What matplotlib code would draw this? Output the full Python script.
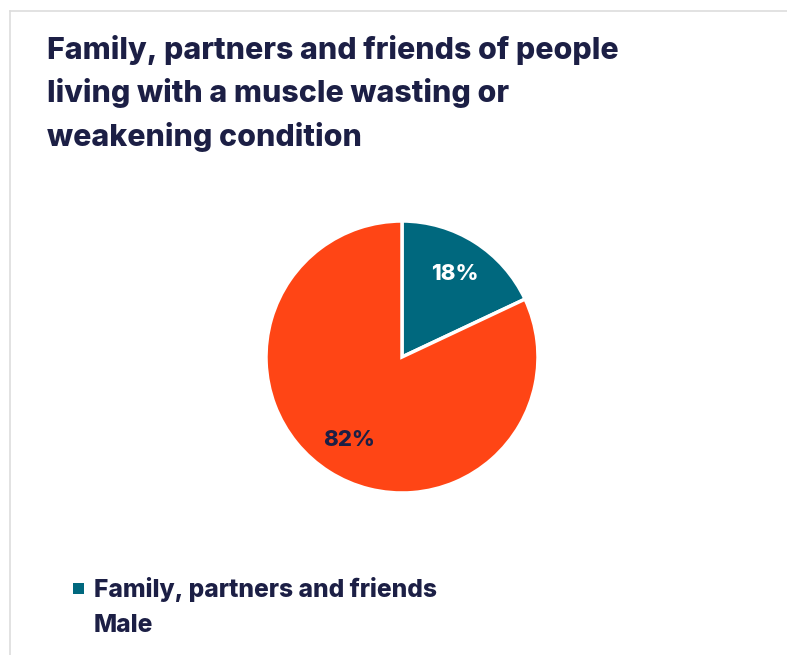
import matplotlib
matplotlib.use("Agg")
import matplotlib.pyplot as plt
from matplotlib.patches import Rectangle
from matplotlib.lines import Line2D

# Data
categories = ["Family, partners and friends Male", "Family, partners and friends Female"]
values = [18, 82]
colors = ["#00687E", "#FF4515"]
label_colors = ["#FFFFFF", "#1C1F45"]
title_lines = ["Family, partners and friends of people",
               "living with a muscle wasting or",
               "weakening condition"]
legend_lines = ["Family, partners and friends", "Male"]

NAVY = "#1C1F45"
W, H = 787, 655
DPI = 100

plt.rcParams["font.family"] = ["Inter", "DejaVu Sans"]

fig = plt.figure(figsize=(W / DPI, H / DPI), dpi=DPI)
fig.patch.set_facecolor("white")

def fx(px):
    return px / W

def fy(py):
    return 1 - py / H

# Card border (top and left edges)
fig.add_artist(Line2D([fx(10), 1.0], [fy(11), fy(11)], color="#DDDDDD", lw=1.2))
fig.add_artist(Line2D([fx(10), fx(10)], [fy(11), 0.0], color="#DDDDDD", lw=1.2))

# Title
for i, line in enumerate(title_lines):
    fig.text(fx(47), fy(50 + i * 43.5), line, fontsize=21.8, fontweight="heavy",
             color=NAVY, ha="left", va="center")

# Pie
cx, cy, r = 402, 357, 136
pad = 1.03
ax = fig.add_axes([fx(cx - r * pad), fy(cy + r * pad), 2 * r * pad / W, 2 * r * pad / H])
wedges, texts, autotexts = ax.pie(
    values, colors=colors, startangle=90, counterclock=False,
    autopct="%d%%", pctdistance=0.72,
    wedgeprops=dict(edgecolor="white", linewidth=2.5),
    textprops=dict(fontsize=16, fontweight="heavy"))
for t, c in zip(autotexts, label_colors):
    t.set_color(c)
ax.set_xlim(-pad, pad)
ax.set_ylim(-pad, pad)
ax.set_aspect("equal")
ax.axis("off")

# Legend (single entry, wrapped label)
sq = 11
fig.add_artist(Rectangle((fx(73), fy(594)), sq / W, sq / H, transform=fig.transFigure,
                         facecolor=colors[0], edgecolor="none"))
for i, line in enumerate(legend_lines):
    fig.text(fx(94), fy(589 + i * 36), line, fontsize=17.7, fontweight="heavy",
             color=NAVY, ha="left", va="center")

fig.savefig("out.png", dpi=DPI, facecolor="white")
